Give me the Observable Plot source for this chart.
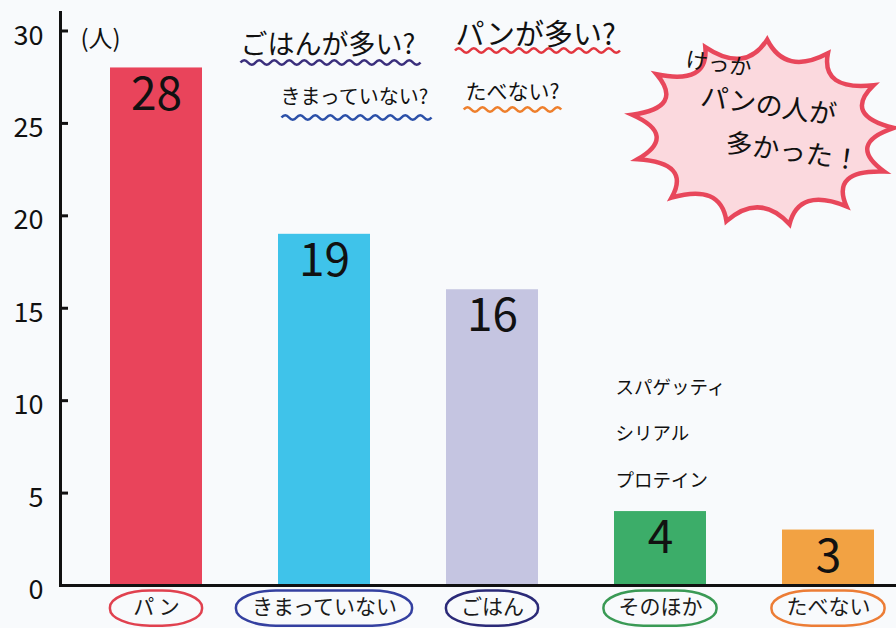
<!DOCTYPE html>
<html><head><meta charset="utf-8">
<script src="https://cdn.jsdelivr.net/npm/d3@7"></script>
<script src="https://cdn.jsdelivr.net/npm/@observablehq/plot@0.6"></script>
<style>body{margin:0;background:#f8fafc;} svg{display:block}</style>
</head><body><div id="chart"></div>
<script>
// ---- data ----
const categories = ["パン", "きまっていない", "ごはん", "そのほか", "たべない"];
const counts = [28, 19, 16, 4, 3];
const xLabels = ["パ ン", "きまっていない", "ごはん", "そのほか", "たべない"];
const yTicks = [0, 5, 10, 15, 20, 25, 30];
const unitLabel = "(人)";
const questions = ["ごはんが多い?", "パンが多い?", "きまっていない?", "たべない?"];
const otherItems = ["スパゲッティ", "シリアル", "プロテイン"];
const resultLines = ["けっか", "パンの人が", "多かった！"];

// ---- styles / layout ----
const barColors = ["#e9445b", "#3fc3ea", "#c5c5e1", "#3cad69", "#f2a243"];
const ringColors = ["#e0414f", "#3440a0", "#2b2a78", "#3a9a55", "#ec7d36"];
const questionColors = ["#3a2f7c", "#e2363f", "#2b50a8", "#ee7f2c"];
const questionPos = [[240, 45, 27], [455, 35, 29], [280, 97, 20], [465, 92, 21]];
const underlinePos = [[330, 62, 178], [537, 50, 165], [356, 117, 148], [512, 109, 98]];
const resultPos = [[718, 64, 22], [768, 106, 27], [792, 152, 27]];
const W = 896, H = 628, ML = 60, MR = 0, MT = 12, MB = 43;
const pIn = 0.45, pOut = 0.2;
const step = (W - ML - MR) / (categories.length - pIn + 2 * pOut);
const bw = step * (1 - pIn);
const FONT = '"Noto Sans CJK JP", "Noto Sans", sans-serif';
const labelSize = 21;

const data = categories.map((c, i) => ({cat: c, value: counts[i], label: xLabels[i]}));

function burst(aspect, n, rot) {
  return {
    draw(ctx, size) {
      const R = Math.sqrt(size / Math.PI);
      const pt = (r, a) => {
        const x = r * Math.cos(a) * aspect, y = r * Math.sin(a);
        return [x * Math.cos(rot) - y * Math.sin(rot), x * Math.sin(rot) + y * Math.cos(rot)];
      };
      for (let i = 0; i <= n; i++) {
        const a = -Math.PI / 2 + i * 2 * Math.PI / n;
        const p = pt(R, a);
        if (i === 0) ctx.moveTo(p[0], p[1]);
        else {
          const c = pt(R * 0.64, a - Math.PI / n);
          ctx.quadraticCurveTo(c[0], c[1], p[0], p[1]);
        }
      }
      ctx.closePath();
    }
  };
}

function wave(width, wavelength, amp) {
  return {
    draw(ctx) {
      const half = wavelength / 2;
      const n = Math.round(width / half);
      let x = -n * half / 2;
      ctx.moveTo(x, 0);
      for (let i = 0; i < n; i++) {
        ctx.quadraticCurveTo(x + half / 2, (i % 2 ? amp : -amp) * 2, x + half, 0);
        x += half;
      }
    }
  };
}

const marks = [
  Plot.dot([0], {frameAnchor: "top-left", dx: 762 - ML, dy: 132 - MT, r: 93,
    symbol: burst(1.42, 13, 0.05), fill: "#fbd9de", stroke: "#e8475b", strokeWidth: 4.5}),
  Plot.barY(data, {x: "cat", y: "value", fill: "cat"}),
  Plot.text(data, {x: "cat", y: "value", text: "value", dy: 27, fontSize: 46,
    fontFamily: FONT, fill: "#111", lineAnchor: "middle"}),
  Plot.ruleY([0], {strokeWidth: 3, stroke: "#111"}),
  Plot.frame({anchor: "left", strokeWidth: 3, stroke: "#111"}),
  Plot.tickY(yTicks.filter(d => d > 0), {y: d => d, insetRight: W - ML - MR - 8, strokeWidth: 3, stroke: "#111"}),
  Plot.axisY(yTicks, {anchor: "left", tickSize: 0, tickPadding: 17, fontSize: 27, label: null,
    fontFamily: FONT, fill: "#111", dy: 5}),
  Plot.text(data, {x: "cat", y: -1.2, text: "label", fontSize: labelSize, fontFamily: FONT, fill: "#1a1a1a"}),
  Plot.text([unitLabel], {frameAnchor: "top-left", dx: 20, dy: 17, textAnchor: "start",
    fontSize: 24, fontFamily: FONT, fill: "#111"}),
  Plot.text([otherItems.join("\n")], {frameAnchor: "top-left", dx: 555, dy: 425 - MT,
    textAnchor: "start", lineAnchor: "middle", lineHeight: 2.5, fontSize: 18.5, fontFamily: FONT, fill: "#111"})
];

data.forEach((d, i) => {
  const w = d.label.length * labelSize + 30;
  const inset = (bw - w) / 2;
  marks.push(Plot.barY([d], {x: "cat", y1: -0.3, y2: -2.2, fill: "none", stroke: ringColors[i],
    strokeWidth: 2.5, insetLeft: inset, insetRight: inset, rx: Math.min(w / 2, 40), ry: 17}));
});

questions.forEach((q, i) => {
  const [x, y, fs] = questionPos[i];
  marks.push(Plot.text([q], {frameAnchor: "top-left", dx: x - ML, dy: y - MT, textAnchor: "start",
    lineAnchor: "middle", fontSize: fs, fontFamily: FONT, fill: "#111"}));
  const [ux, uy, uw] = underlinePos[i];
  marks.push(Plot.dot([q], {frameAnchor: "top-left", dx: ux - ML, dy: uy - MT, r: 5,
    symbol: wave(uw, 15, 2.2), fill: "none", stroke: questionColors[i], strokeWidth: 2.6}));
});

resultLines.forEach((t, i) => {
  const [x, y, fs] = resultPos[i];
  marks.push(Plot.text([t], {frameAnchor: "top-left", dx: x - ML, dy: y - MT, rotate: 8,
    textAnchor: "middle", lineAnchor: "middle", fontSize: fs, fontFamily: FONT, fill: "#111"}));
});

const plot = Plot.plot({
  width: W, height: H,
  marginLeft: ML, marginRight: MR, marginTop: MT, marginBottom: MB,
  style: {background: "#f8fafc", overflow: "visible"},
  x: {domain: categories, paddingInner: pIn, paddingOuter: pOut, align: 0.7, axis: null},
  y: {domain: [0, 31], label: null},
  color: {domain: categories, range: barColors},
  marks
});

document.getElementById("chart").appendChild(plot);
</script>
</body></html>
